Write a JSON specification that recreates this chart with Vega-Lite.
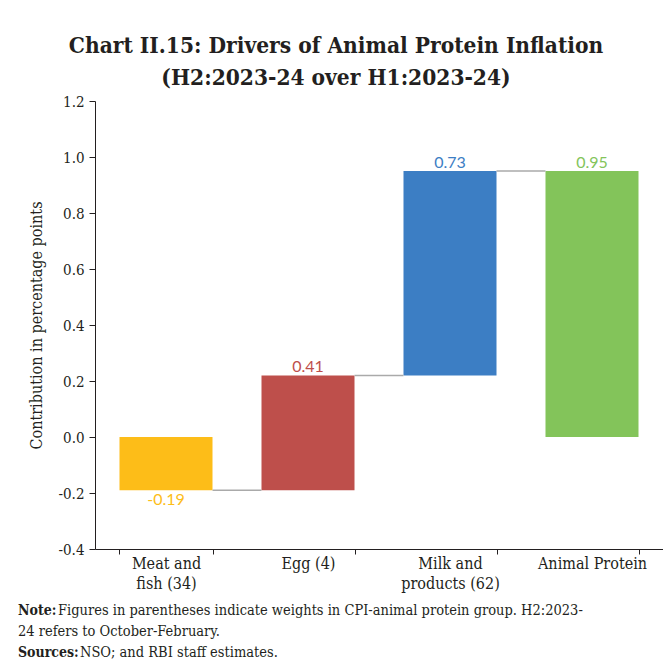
{
  "$schema": "https://vega.github.io/schema/vega-lite/v6.json",
  "background": "white",
  "padding": {"left": 18, "top": 34, "right": 0, "bottom": 0},
  "config": {
    "view": {"stroke": null},
    "font": "DejaVu Serif Condensed, DejaVu Serif",
    "concat": {"spacing": 12},
    "locale": {"number": {"decimal": ".", "thousands": ",", "grouping": [3], "currency": ["", ""], "minus": "-"}}
  },
  "datasets": {
    "bars": [
      {"cat": "Meat and|fish (34)", "start": 0, "end": -0.19, "amount": -0.19, "next": "Egg (4)"},
      {"cat": "Egg (4)", "start": -0.19, "end": 0.22, "amount": 0.41, "next": "Milk and|products (62)"},
      {"cat": "Milk and|products (62)", "start": 0.22, "end": 0.95, "amount": 0.73, "next": "Animal Protein"},
      {"cat": "Animal Protein", "start": 0, "end": 0.95, "amount": 0.95, "next": null}
    ],
    "notes": [
      {"row": 1, "head": "Note:", "body": "Figures in parentheses indicate weights in CPI-animal protein group. H2:2023-"},
      {"row": 2, "head": "", "body": "24 refers to October-February."},
      {"row": 3, "head": "Sources:", "body": "NSO; and RBI staff estimates."}
    ]
  },
  "vconcat": [
    {
      "title": {
        "text": ["Chart II.15: Drivers of Animal Protein Inflation", "(H2:2023-24 over H1:2023-24)"],
        "font": "DejaVu Serif Condensed, DejaVu Serif",
        "fontSize": 22.5,
        "fontWeight": "bold",
        "color": "#231f20",
        "lineHeight": 32,
        "anchor": "middle",
        "frame": "bounds",
        "dx": -10,
        "offset": 5
      },
      "width": 568,
      "height": 448,
      "data": {"name": "bars"},
      "encoding": {
        "x": {
          "field": "cat",
          "type": "nominal",
          "scale": {
            "domain": ["Meat and|fish (34)", "Egg (4)", "Milk and|products (62)", "Animal Protein"],
            "paddingInner": 0.345,
            "paddingOuter": 0.1725
          },
          "axis": {
            "title": null,
            "labelAngle": 0,
            "labelExpr": "split(datum.label, '|')",
            "labelFontSize": 16,
            "labelColor": "#231f20",
            "labelPadding": 1,
            "labelLineHeight": 20,
            "tickBand": "extent",
            "tickSize": 5,
            "tickColor": "#231f20",
            "domainColor": "#231f20",
            "labelBaseline": "top"
          }
        }
      },
      "layer": [
        {
          "mark": {"type": "bar"},
          "encoding": {
            "y": {
              "field": "start",
              "type": "quantitative",
              "scale": {"domain": [-0.4, 1.2], "nice": false},
              "axis": {
                "title": "Contribution in percentage points",
                "titleFontSize": 16,
                "titleFontWeight": "normal",
                "titleColor": "#231f20",
                "titlePadding": 13,
                "values": [-0.4, -0.2, 0, 0.2, 0.4, 0.6, 0.8, 1.0, 1.2],
                "format": ".1f",
                "grid": false,
                "labelFontSize": 15,
                "labelColor": "#231f20",
                "tickSize": 6,
                "tickColor": "#231f20",
                "domainColor": "#231f20",
                "labelPadding": 5
              }
            },
            "y2": {"field": "end"},
            "color": {
              "field": "cat",
              "type": "nominal",
              "scale": {
                "domain": ["Meat and|fish (34)", "Egg (4)", "Milk and|products (62)", "Animal Protein"],
                "range": ["#FDBD18", "#BE4F4B", "#3C7EC4", "#83C45A"]
              },
              "legend": null
            }
          }
        },
        {
          "transform": [{"filter": "datum.next != null"}],
          "mark": {"type": "rule", "color": "#AAAAAA", "strokeWidth": 1.5},
          "encoding": {
            "x": {"field": "cat", "type": "nominal", "bandPosition": 1},
            "x2": {"field": "next", "bandPosition": 0},
            "y": {"field": "end", "type": "quantitative"}
          }
        },
        {
          "transform": [{"filter": "datum.amount >= 0"}],
          "mark": {"type": "text", "font": "Lato", "fontSize": 16, "baseline": "bottom", "dy": 0},
          "encoding": {
            "y": {"field": "end", "type": "quantitative"},
            "text": {"field": "amount", "type": "quantitative", "format": ".2f"},
            "color": {"field": "cat", "type": "nominal", "legend": null}
          }
        },
        {
          "transform": [{"filter": "datum.amount < 0"}],
          "mark": {"type": "text", "font": "Lato", "fontSize": 16, "baseline": "top", "dy": 2},
          "encoding": {
            "y": {"field": "end", "type": "quantitative"},
            "text": {"field": "amount", "type": "quantitative", "format": ".2f"},
            "color": {"field": "cat", "type": "nominal", "legend": null}
          }
        }
      ]
    },
    {
      "width": 560,
      "height": 42,
      "data": {"name": "notes"},
      "encoding": {
        "y": {"field": "row", "type": "ordinal", "axis": null, "scale": {"padding": 0}}
      },
      "layer": [
        {
          "mark": {"type": "text", "align": "left", "baseline": "middle", "fontWeight": "bold", "fontSize": 14, "color": "#231f20", "dx": -77},
          "encoding": {"x": {"value": 0}, "text": {"field": "head"}}
        },
        {
          "mark": {"type": "text", "align": "left", "baseline": "middle", "fontSize": 14.5, "color": "#231f20",
                   "dx": {"expr": "datum.head == 'Note:' ? -37 : datum.head == 'Sources:' ? -15 : -77"}},
          "encoding": {"x": {"value": 0}, "text": {"field": "body"}}
        }
      ]
    }
  ]
}
